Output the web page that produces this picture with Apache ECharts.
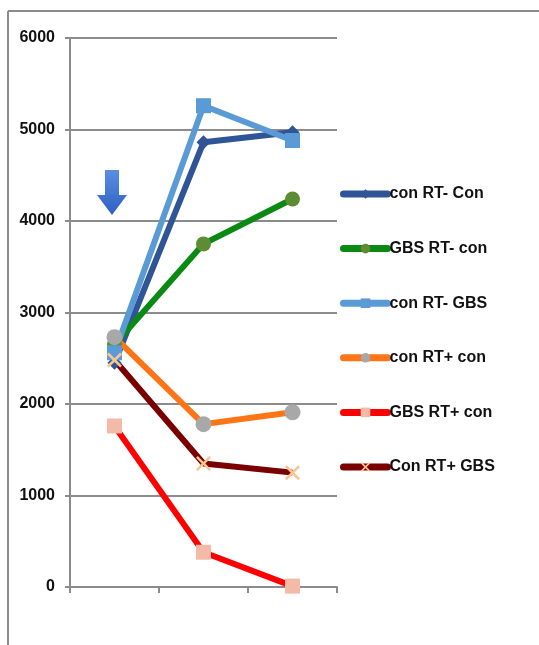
<!DOCTYPE html>
<html>
<head>
<meta charset="utf-8">
<script src="https://cdn.jsdelivr.net/npm/echarts@6/dist/echarts.min.js"></script>
<style>
  html, body { margin: 0; padding: 0; background: #fff; }
  #chart { width: 539px; height: 645px; }
</style>
</head>
<body>
<div id="chart"></div>
<script>
// Time points (unlabelled on the axis)
const categories = ['', '', ''];

// Series values per time point
const conRTminusCon = [2450, 4860, 4970];
const gbsRTminusCon = [2650, 3750, 4240];
const conRTminusGbs = [2560, 5260, 4880];
const conRTplusCon  = [2730, 1780, 1910];
const gbsRTplusCon  = [1760, 380, 10];
const conRTplusGbs  = [2480, 1350, 1250];

const seriesNames = ['con RT- Con', 'GBS RT- con', 'con RT- GBS', 'con RT+ con', 'GBS RT+ con', 'Con RT+ GBS'];
const yTicks = [0, 1000, 2000, 3000, 4000, 5000, 6000];

const crossPath = 'path://M0,1.2L1.2,0L5,3.8L8.8,0L10,1.2L6.2,5L10,8.8L8.8,10L5,6.2L1.2,10L0,8.8L3.8,5Z';

function lineSeries(name, data, lineColor, symbol, markerColor, size) {
  return {
    name: name,
    type: 'line',
    data: data,
    symbol: symbol,
    symbolSize: size,
    lineStyle: { color: lineColor, width: 6 },
    itemStyle: { color: markerColor, borderWidth: 0 },
    emphasis: { disabled: true },
    animation: false,
    z: 3
  };
}

const chart = echarts.init(document.getElementById('chart'), null, { renderer: 'canvas' });

chart.setOption({
  backgroundColor: '#ffffff',
  animation: false,
  textStyle: { fontFamily: 'Liberation Sans, Arial, sans-serif' },
  grid: { left: 70, top: 38, width: 267, height: 549, containLabel: false },
  xAxis: {
    type: 'category',
    data: categories,
    boundaryGap: true,
    axisLine: { lineStyle: { color: '#8c8c8c', width: 2 } },
    axisTick: { show: true, length: 6, alignWithLabel: false, lineStyle: { color: '#8c8c8c', width: 2 } },
    axisLabel: { show: false },
    splitLine: { show: false }
  },
  yAxis: {
    type: 'value',
    min: yTicks[0],
    max: yTicks[yTicks.length - 1],
    interval: 1000,
    axisLine: { show: true, lineStyle: { color: '#8c8c8c', width: 2 } },
    axisTick: { show: true, length: 5, lineStyle: { color: '#8c8c8c', width: 2 } },
    axisLabel: {
      color: '#111',
      fontSize: 16,
      fontWeight: 'bold',
      margin: 15,
      formatter: function (v) { return String(v); },
      fontFamily: 'Liberation Sans, Arial, sans-serif'
    },
    splitLine: { show: true, lineStyle: { color: '#8c8c8c', width: 2 } }
  },
  legend: {
    orient: 'vertical',
    left: 340,
    top: 186,
    padding: 0,
    itemWidth: 44,
    itemHeight: 12,
    itemGap: 38.6,
    data: seriesNames,
    selectedMode: false,
    lineStyle: { width: 7, cap: 'round' },
    textStyle: {
      color: '#111',
      fontSize: 16,
      fontWeight: 'bold',
      lineHeight: 16,
      padding: [0, 0, 0, -3],
      fontFamily: 'Liberation Sans, Arial, sans-serif'
    }
  },
  series: [
    lineSeries(seriesNames[0], conRTminusCon, '#2f5597', 'diamond', '#2f5597', 14),
    lineSeries(seriesNames[1], gbsRTminusCon, '#0a8a12', 'circle', '#5e8c35', 15),
    lineSeries(seriesNames[2], conRTminusGbs, '#5b9bd5', 'rect', '#5b9bd5', 15),
    lineSeries(seriesNames[3], conRTplusCon, '#ff7417', 'circle', '#a8a8a8', 16),
    lineSeries(seriesNames[4], gbsRTplusCon, '#ff0000', 'rect', '#f4baa8', 15),
    lineSeries(seriesNames[5], conRTplusGbs, '#7a0000', crossPath, '#f8c690', 15)
  ],
  graphic: [
    // outer frame (top and left edges)
    { type: 'line', shape: { x1: 8, y1: 11, x2: 539, y2: 11 }, style: { stroke: '#8c8c8c', lineWidth: 2 }, silent: true },
    { type: 'line', shape: { x1: 8, y1: 11, x2: 8, y2: 645 }, style: { stroke: '#8c8c8c', lineWidth: 2 }, silent: true },
    // downward arrow marker
    {
      type: 'polygon',
      shape: { points: [[105, 170], [119, 170], [119, 195], [127, 195], [112, 215], [97, 195], [105, 195]] },
      style: {
        fill: new echarts.graphic.LinearGradient(0, 0, 0, 1, [
          { offset: 0, color: '#5b8ee0' },
          { offset: 1, color: '#2d5fc4' }
        ])
      },
      silent: true
    }
  ]
});
</script>
</body>
</html>
